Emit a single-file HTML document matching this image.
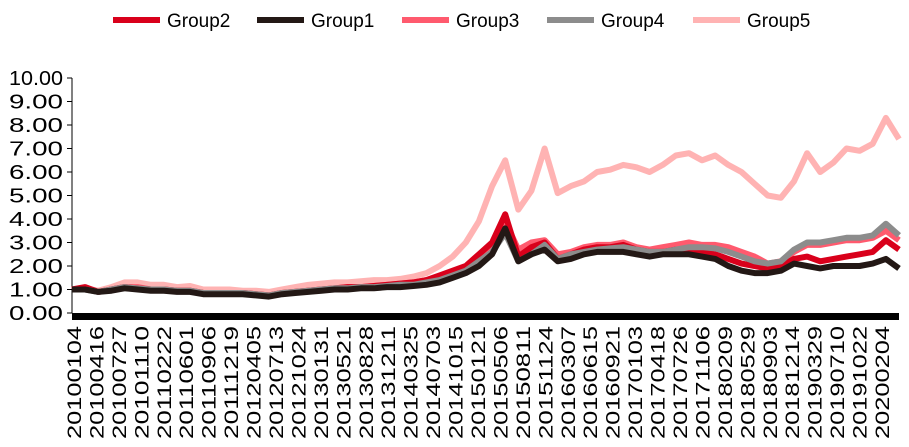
<!DOCTYPE html>
<html><head><meta charset="utf-8"><style>
body{margin:0;background:#fff;}
svg{display:block;font-family:"Liberation Sans",Arial,sans-serif;}
</style></head><body>
<svg id="chart" width="909" height="447" viewBox="0 0 909 447"></svg>
<script>
const dates=["20100104","20100416","20100727","20101110","20110222","20110601","20110906","20111219","20120405","20120713","20121024","20130131","20130521","20130828","20131211","20140325","20140703","20141015","20150121","20150506","20150811","20151124","20160307","20160615","20160921","20170103","20170418","20170726","20171106","20180209","20180529","20180903","20181214","20190329","20190710","20191022","20200204"];
const yTicks=[0,1,2,3,4,5,6,7,8,9,10];
const g5=[1.0,1.05,0.95,1.1,1.3,1.3,1.2,1.2,1.1,1.15,1.0,1.0,1.0,0.95,0.95,0.9,1.0,1.1,1.2,1.25,1.3,1.3,1.35,1.4,1.4,1.45,1.55,1.7,2.0,2.4,3.0,3.9,5.4,6.5,4.4,5.2,7.0,5.1,5.4,5.6,6.0,6.1,6.3,6.2,6.0,6.3,6.7,6.8,6.5,6.7,6.3,6.0,5.5,5.0,4.9,5.6,6.8,6.0,6.4,7.0,6.9,7.2,8.3,7.4];
const g4=[1.0,1.0,0.9,1.0,1.1,1.05,1.0,1.0,0.95,0.95,0.85,0.85,0.85,0.85,0.8,0.75,0.85,0.9,0.95,1.0,1.05,1.05,1.1,1.1,1.15,1.2,1.2,1.3,1.4,1.6,1.8,2.2,2.6,3.4,2.2,2.5,2.9,2.3,2.5,2.6,2.7,2.75,2.8,2.7,2.6,2.6,2.7,2.8,2.8,2.75,2.6,2.4,2.2,2.1,2.2,2.7,3.0,3.0,3.1,3.2,3.2,3.3,3.8,3.3];
const g3=[1.0,1.05,0.9,1.0,1.1,1.1,1.0,1.0,0.95,0.95,0.85,0.85,0.85,0.85,0.8,0.75,0.85,0.9,0.95,1.0,1.05,1.1,1.1,1.15,1.2,1.25,1.3,1.4,1.5,1.7,1.9,2.4,2.8,3.9,2.7,3.0,3.1,2.5,2.6,2.8,2.9,2.9,3.0,2.8,2.7,2.8,2.9,3.0,2.9,2.9,2.8,2.6,2.4,2.1,2.2,2.6,2.9,2.9,3.0,3.1,3.1,3.2,3.5,3.1];
const g1=[1.0,1.0,0.9,0.95,1.05,1.0,0.95,0.95,0.9,0.9,0.8,0.8,0.8,0.8,0.75,0.7,0.8,0.85,0.9,0.95,1.0,1.0,1.05,1.05,1.1,1.1,1.15,1.2,1.3,1.5,1.7,2.0,2.5,3.6,2.2,2.5,2.7,2.2,2.3,2.5,2.6,2.6,2.6,2.5,2.4,2.5,2.5,2.5,2.4,2.3,2.0,1.8,1.7,1.7,1.8,2.1,2.0,1.9,2.0,2.0,2.0,2.1,2.3,1.9];
const g2=[1.0,1.1,0.9,1.0,1.1,1.05,1.0,1.0,0.95,0.95,0.85,0.85,0.85,0.85,0.8,0.75,0.85,0.9,0.95,1.0,1.05,1.1,1.1,1.15,1.2,1.25,1.3,1.4,1.6,1.8,2.0,2.5,3.0,4.2,2.4,2.8,3.0,2.3,2.5,2.7,2.8,2.8,2.9,2.7,2.6,2.6,2.7,2.7,2.6,2.5,2.3,2.1,2.0,1.9,2.0,2.3,2.4,2.2,2.3,2.4,2.5,2.6,3.1,2.7];
const seriesNames=["Group2","Group1","Group3","Group4","Group5"];
const svg=document.getElementById('chart');
const NS="http://www.w3.org/2000/svg";
const X0=72,X1=899,Y0=313,Y1=78;
const yS=v=>Y0-(v-0)/10*(Y0-Y1);
const xS=i=>X0+i*(X1-X0)/(g5.length-1);
const xL=i=>74+i*(882-74)/(dates.length-1);
function mk(t,a){const e=document.createElementNS(NS,t);for(const k in a)e.setAttribute(k,a[k]);svg.appendChild(e);return e;}
let ax=mk('line',{x1:X0,y1:Y1,x2:X0,y2:Y0,stroke:'#000','stroke-width':1});


yTicks.forEach(v=>{
  const y=yS(v);
  let tk=mk('line',{x1:X0-5,y1:y,x2:X0,y2:y,stroke:'#000','stroke-width':1});
  
  
  let t=mk('text',{x:63,y:y+7,'text-anchor':'end','font-size':20,textLength:54,lengthAdjust:'spacingAndGlyphs'});
  t.textContent=v.toFixed(2);
  
  
});
const colors={Group5:'#ffb3b3',Group4:'#8c8c8c',Group3:'#ff5a6e',Group2:'#d9001b',Group1:'#231815'};
const data={Group5:g5,Group4:g4,Group3:g3,Group2:g2,Group1:g1};
["Group5","Group3","Group2","Group4","Group1"].forEach(n=>{
  const d=data[n].map((v,i)=>(i?'L':'M')+xS(i).toFixed(1)+','+yS(v).toFixed(1)).join('');
  let p=mk('path',{d:d,fill:'none',stroke:colors[n],'stroke-width':6,'stroke-linejoin':'round'});
  
  
});
let xb=mk('rect',{x:X0,y:Y0,width:X1-X0,height:7,fill:'#000'});


dates.forEach((d,i)=>{
  const x=xL(i)+7;
  let t=mk('text',{x:x,y:326,'text-anchor':'end','font-size':19,textLength:113,lengthAdjust:'spacingAndGlyphs',transform:`rotate(-90 ${x} 326)`});
  t.textContent=d;
  
  
});
const lx=[113,257,402,547,693];
seriesNames.forEach((n,i)=>{
  let l=mk('line',{x1:lx[i],y1:20,x2:lx[i]+47,y2:20,stroke:colors[n],'stroke-width':6});
  
  
  let t=mk('text',{x:lx[i]+54,y:27,'font-size':19});
  t.textContent=n;
  
  
});
</script>
</body></html>
